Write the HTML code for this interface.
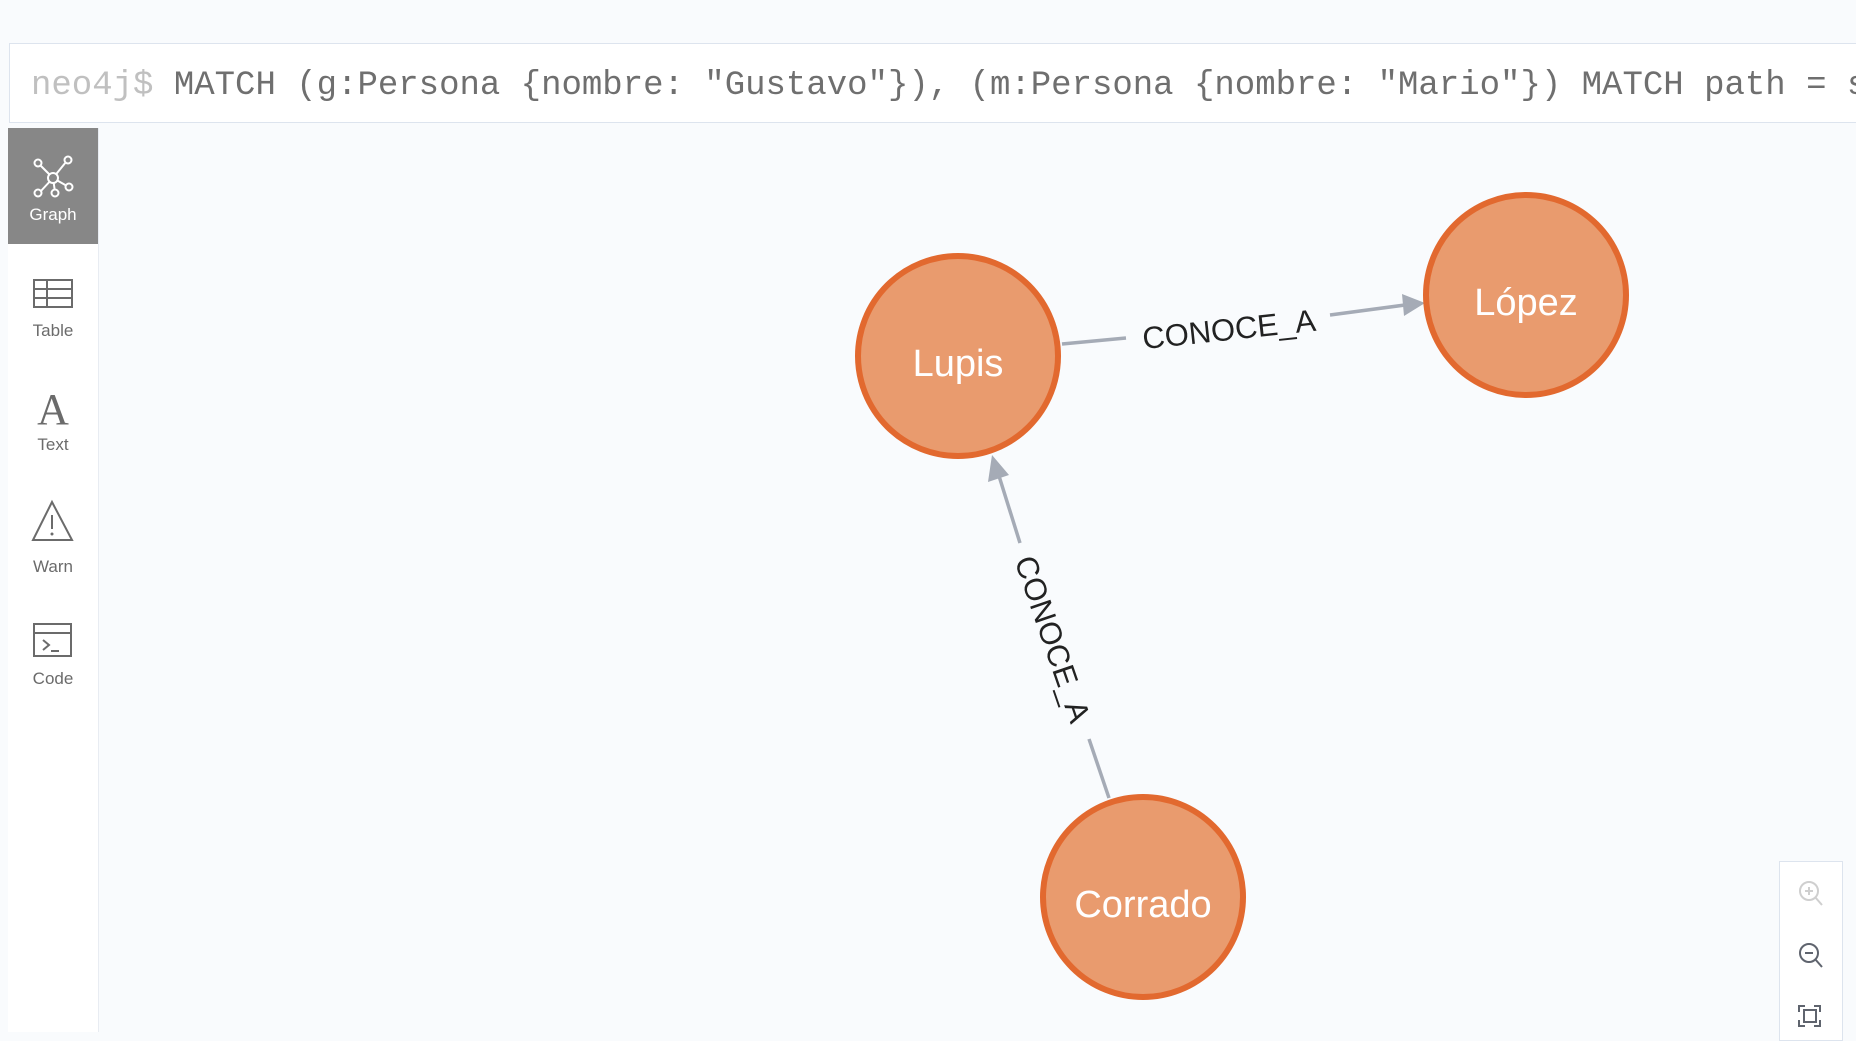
<!DOCTYPE html>
<html><head><meta charset="utf-8"><style>
html,body{margin:0;padding:0;width:1856px;height:1032px;overflow:hidden;background:#f9fbfd;font-family:"Liberation Sans",sans-serif;}
#bar{position:absolute;left:9px;top:43px;width:1860px;height:80px;background:#fff;border:1px solid #dde4ee;box-sizing:border-box;}
#q{position:absolute;left:31px;top:64px;font-family:"Liberation Mono",monospace;font-size:34px;color:#6f6f6f;white-space:pre;line-height:44px;}
#q span{color:#c0c0c0}
#side{position:absolute;left:8px;top:128px;width:90px;height:904px;background:#fff;border-right:1px solid #e8ecf2;}
#gr{position:absolute;left:8px;top:128px;width:90px;height:116px;background:#878787;}
#zp{position:absolute;left:1779px;top:861px;width:64px;height:180px;background:#fff;border:1px solid #dde4ee;box-sizing:border-box;}
</style></head><body>
<div id="bar"></div>
<div id="q"><span>neo4j$</span> MATCH (g:Persona {nombre: "Gustavo"}), (m:Persona {nombre: "Mario"}) MATCH path = s</div>
<div id="side"></div>
<div id="gr"></div>
<svg width="1856" height="1032" style="position:absolute;left:0;top:0">
<g stroke="#fff" stroke-width="2" fill="none">
<line x1="40" y1="165" x2="53" y2="178"/><line x1="66" y1="162" x2="53" y2="178"/><line x1="53" y1="178" x2="40" y2="192"/><line x1="53" y1="178" x2="55" y2="192"/><line x1="53" y1="178" x2="67" y2="186"/>
<circle cx="53" cy="178" r="5" fill="#878787"/><circle cx="38" cy="163" r="3.5" fill="#878787"/><circle cx="68" cy="160" r="3.5" fill="#878787"/><circle cx="69" cy="187" r="3.5" fill="#878787"/><circle cx="38" cy="193" r="3.5" fill="#878787"/><circle cx="55" cy="193" r="3.5" fill="#878787"/>
</g>
<text x="53" y="220" font-size="17" fill="#fff" text-anchor="middle" font-family="Liberation Sans">Graph</text>
<g stroke="#6b6b6b" stroke-width="2" fill="none">
<rect x="34" y="280" width="38" height="27"/><line x1="34" y1="289" x2="72" y2="289"/><line x1="34" y1="298" x2="72" y2="298"/><line x1="47" y1="280" x2="47" y2="307"/>
</g>
<text x="53" y="336" font-size="17" fill="#6b6b6b" text-anchor="middle">Table</text>
<text x="53" y="424" font-size="44" fill="#6b6b6b" text-anchor="middle" font-family="Liberation Serif">A</text>
<text x="53" y="450" font-size="17" fill="#6b6b6b" text-anchor="middle">Text</text>
<g stroke="#6b6b6b" stroke-width="2" fill="none"><path d="M52 502 L72 540 L33 540 Z"/><line x1="52" y1="515" x2="52" y2="529"/></g>
<circle cx="52" cy="534" r="1.5" fill="#6b6b6b"/>
<text x="53" y="572" font-size="17" fill="#6b6b6b" text-anchor="middle">Warn</text>
<g stroke="#6b6b6b" stroke-width="2" fill="none"><rect x="34" y="624" width="37" height="32"/><line x1="34" y1="633" x2="71" y2="633"/><path d="M43 640 L49 645 L43 650"/><line x1="51" y1="651" x2="59" y2="651"/></g>
<text x="53" y="684" font-size="17" fill="#6b6b6b" text-anchor="middle">Code</text>
<g stroke="#a5abb6" stroke-width="3.5">
<line x1="1062" y1="344" x2="1126" y2="338"/>
<line x1="1330" y1="315" x2="1405" y2="305"/>
<line x1="1109" y1="798" x2="1089" y2="739"/>
<line x1="1020" y1="543" x2="999" y2="476"/>
</g>
<path d="M1425 303 L1402 294 L1404 316 Z" fill="#a5abb6"/>
<path d="M992 455 L988 482 L1009 475 Z" fill="#a5abb6"/>
<text x="1229" y="340" font-size="31" fill="#222" text-anchor="middle" transform="rotate(-6.1 1229 329)">CONOCE_A</text>
<text x="1053" y="650" font-size="31" fill="#222" text-anchor="middle" transform="rotate(71 1053 639)">CONOCE_A</text>
<g fill="#e99b6e" stroke="#e2692f" stroke-width="6">
<circle cx="958" cy="356" r="100"/><circle cx="1526" cy="295" r="100"/><circle cx="1143" cy="897" r="100"/>
</g>
<g fill="#fff" font-size="38" text-anchor="middle">
<text x="958" y="376">Lupis</text><text x="1526" y="315">López</text><text x="1143" y="917">Corrado</text>
</g>
</svg>
<div id="zp"></div>
<svg width="1856" height="1032" style="position:absolute;left:0;top:0">
<g fill="none" stroke-width="2"><g stroke="#cfcfcf"><circle cx="1809" cy="891" r="9"/><line x1="1815" y1="897" x2="1822" y2="905"/><line x1="1805" y1="891" x2="1813" y2="891"/><line x1="1809" y1="887" x2="1809" y2="895"/></g>
<g stroke="#5f646e"><circle cx="1809" cy="953" r="9"/><line x1="1815" y1="959" x2="1822" y2="967"/><line x1="1805" y1="953" x2="1813" y2="953"/>
<rect x="1804" y="1010" width="12" height="12"/><path d="M1799 1012 V1006 H1805 M1814 1006 H1820 V1012 M1820 1020 V1026 H1814 M1805 1026 H1799 V1020"/></g></g>
</svg>
</body></html>
